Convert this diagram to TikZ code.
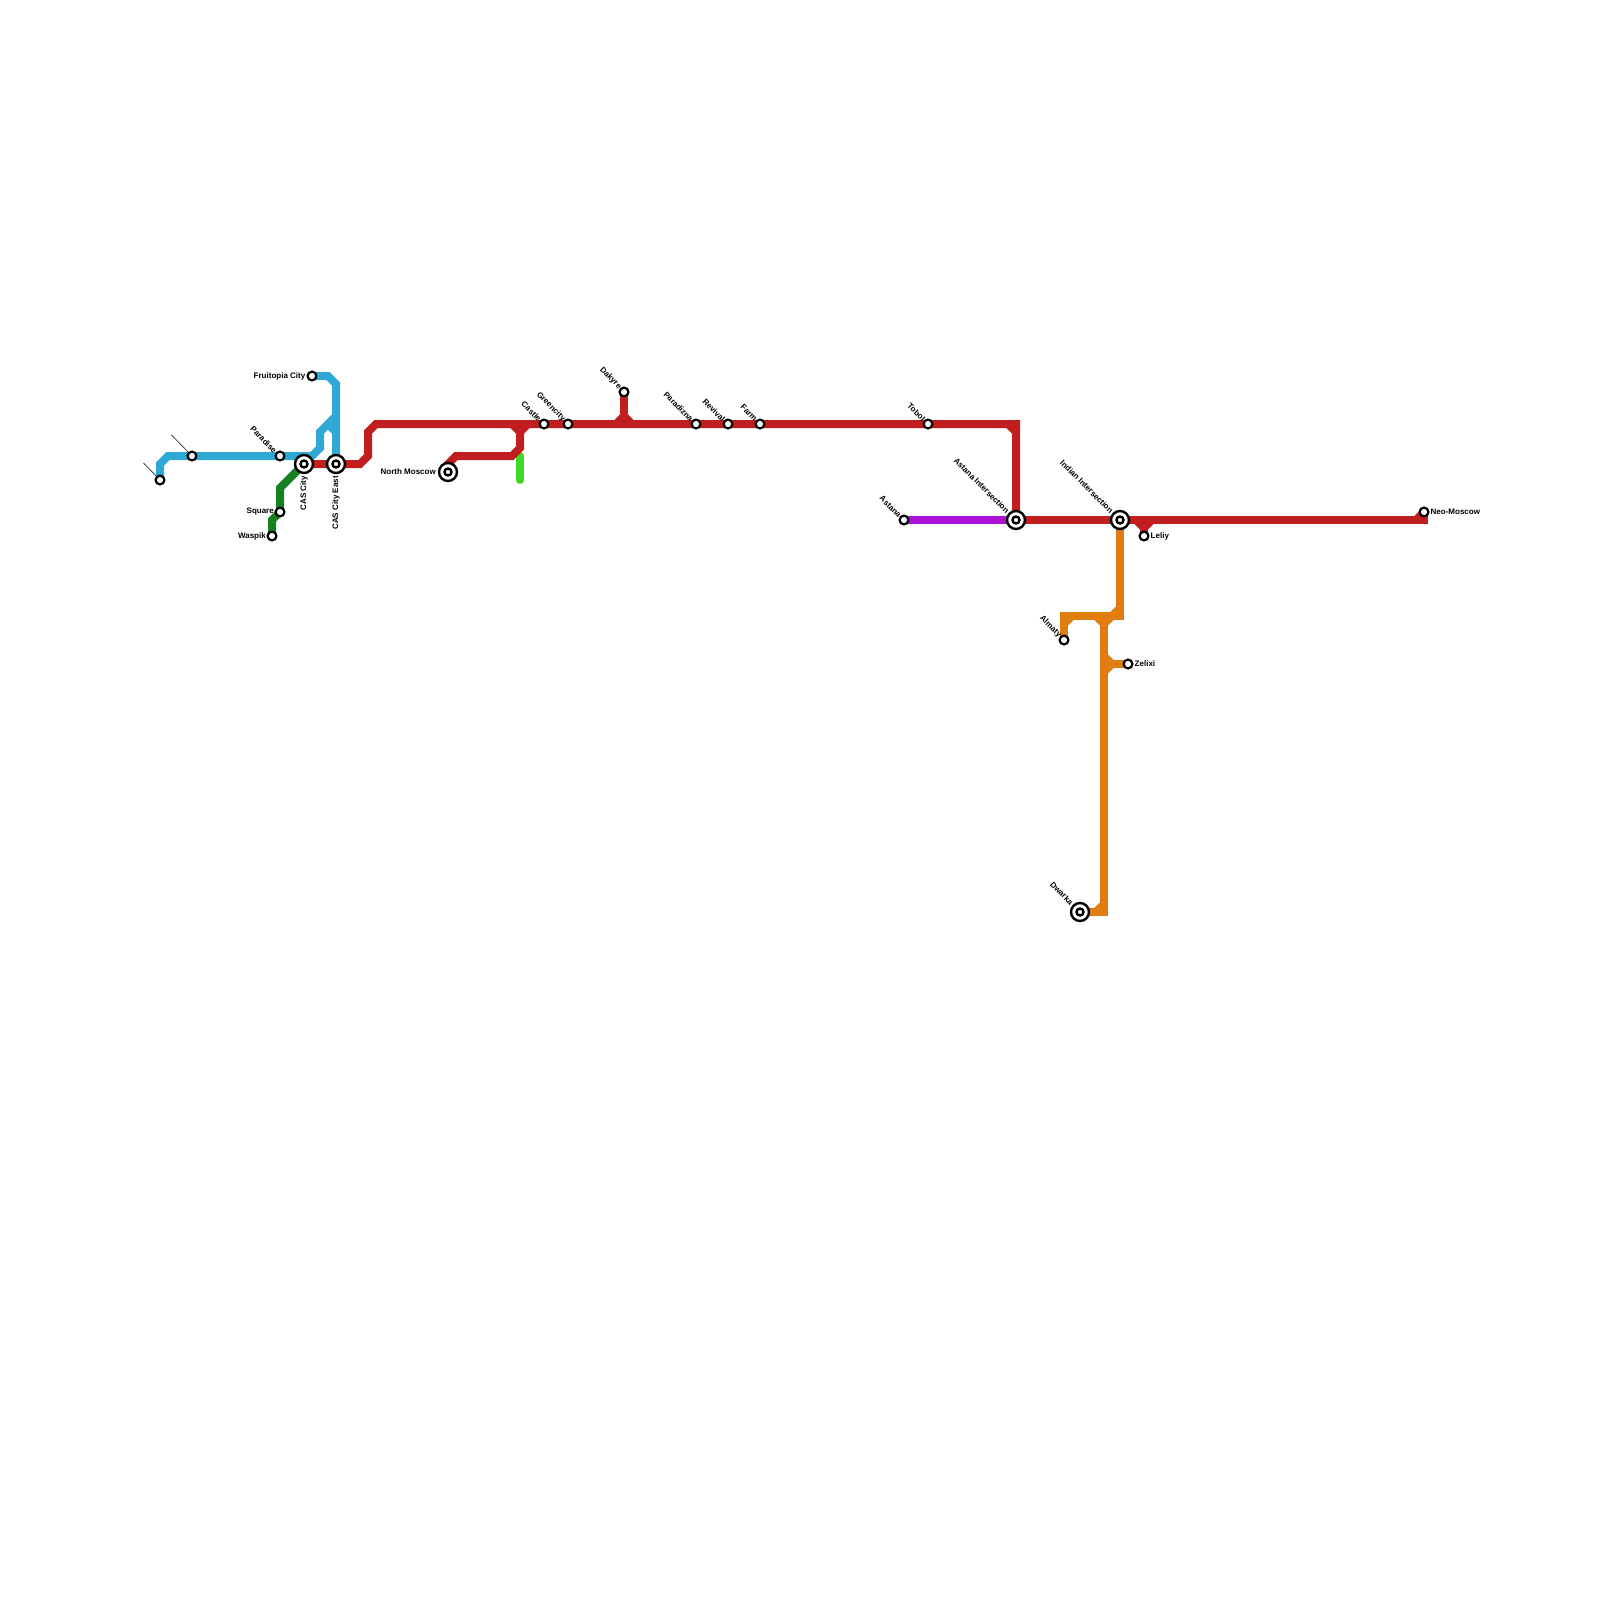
\documentclass[tikz,border=0pt]{standalone}
\usepackage{fontspec}
\setmainfont{Liberation Sans}
\usetikzlibrary{backgrounds}
\definecolor{mred}{HTML}{C11F1F}
\definecolor{mblue}{HTML}{2FA9D4}
\definecolor{mgreen}{HTML}{178021}
\definecolor{mlime}{HTML}{3DDB24}
\definecolor{morange}{HTML}{E07D10}
\definecolor{mpurple}{HTML}{AE10D6}
\tikzset{
  stn/.style={circle,draw=black,fill=white,line width=2.2pt,minimum size=8.8pt,inner sep=0pt},
  xchg/.style={circle,draw=black,fill=white,line width=2.4pt,minimum size=18pt,inner sep=0pt,
    path picture={\draw[black,line width=2.4pt,fill=white] (path picture bounding box.center) circle (3.5pt);}},
  lbl/.style={font=\fontsize{8}{8}\selectfont\bfseries,text=black,inner sep=0pt},
  labdiag/.style={lbl,rotate=-45,anchor=east},
  labup/.style={lbl,rotate=90,anchor=east},
  labl/.style={lbl,anchor=east},
  labr/.style={lbl,anchor=west},
  metro/.style={line width=8pt,line cap=butt,line join=miter,miter limit=10},
  leader/.style={draw=black!75,line width=0.8pt}
}
\begin{document}
\begin{tikzpicture}[x=1pt,y=-1pt]
\useasboundingbox (0,0) rectangle (1600,1600);
% stations
\node[stn] (sa) at (160,480) {};
\node[stn] (sb) at (192,456) {};
\node[stn] (paradise) at (280,456) {};
\node[xchg] (cas) at (304,464) {};
\node[xchg] (case) at (336,464) {};
\node[stn] (fruit) at (312,376) {};
\node[stn] (square) at (280,512) {};
\node[stn] (waspik) at (272,536) {};
\node[xchg] (nmos) at (448,472) {};
\node[stn] (castle) at (544,424) {};
\node[stn] (green) at (568,424) {};
\node[stn] (dakyre) at (624,392) {};
\node[stn] (parad) at (696,424) {};
\node[stn] (revival) at (728,424) {};
\node[stn] (farm) at (760,424) {};
\node[stn] (tobol) at (928,424) {};
\node[stn] (astana) at (904,520) {};
\node[xchg] (astint) at (1016,520) {};
\node[xchg] (indint) at (1120,520) {};
\node[stn] (leliy) at (1144,536) {};
\node[stn] (neo) at (1424,512) {};
\node[stn] (almaty) at (1064,640) {};
\node[stn] (zelixi) at (1128,664) {};
\node[xchg] (dwarka) at (1080,912) {};
% free ends of the leader lines
\coordinate (lda) at (143.5,463);
\coordinate (ldb) at (171.5,435);
% labels
\node[labl] (t-fruit) at (305.5,376) {Fruitopia City};
\node[labl] (t-square) at (274,512) {Square};
\node[labl] (t-waspik) at (266,536) {Waspik};
\node[labl] (t-nmos) at (436,472) {North Moscow};
\node[labr] (t-zelixi) at (1134.5,664) {Zelixi};
\node[labr] (t-leliy) at (1150.5,536) {Leliy};
\node[labr] (t-neo) at (1430.5,512) {Neo-Moscow};
\node[labup] (t-cas) at (304,476) {CAS City};
\node[labup] (t-case) at (336,476) {CAS City East};
\node[labdiag] (t-paradise) at (275.5,451.5) {Paradise};
\node[labdiag] (t-castle) at (540,420) {Castle};
\node[labdiag] (t-green) at (564,420) {Greencity};
\node[labdiag] (t-dakyre) at (620,388) {Dakyre};
\node[labdiag] (t-parad) at (692,420) {Paradizna};
\node[labdiag] (t-revival) at (724,420) {Revival};
\node[labdiag] (t-farm) at (756,420) {Farm};
\node[labdiag] (t-tobol) at (924,420) {Tobol};
\node[labdiag] (t-astana) at (900,516) {Astana};
\node[labdiag] (t-astint) at (1008,512) {Astana Intersection};
\node[labdiag] (t-indint) at (1112,512) {Indian Intersection};
\node[labdiag] (t-almaty) at (1060,636) {Almaty};
\node[labdiag] (t-dwarka) at (1072,903.5) {Dwarka};
\begin{scope}[on background layer]
  % leaders
  \draw[leader] (lda) -- (sa);
  \draw[leader] (ldb) -- (sb);
  % lime
  \draw[metro,mlime,line cap=round] (520,456) -- (520,480);
  % purple
  \draw[metro,mpurple] (astana.center) -- (astint.center);
  % green
  \draw[metro,mgreen] (cas.center) -- ++(-24,24) -- (square.center) -- ++(-8,8) -- (waspik.center);
  % blue
  \draw[metro,mblue] (sa.center) -- ++(0,-16) -- ++(8,-8) -- (sb.center) -- (paradise.center) -- ++(32,0) -- ++(8,-8) -- ++(0,-16) -- ++(16,-16);
  \draw[metro,mblue] (fruit.center) -- ++(16,0) -- ++(8,8) -- (case.center);
  \draw[metro,mblue] (328,424) -- (336,432);
  % red
  \draw[metro,mred] (cas.center) -- (case.center) -- ++(24,0) -- ++(8,-8) -- ++(0,-24) -- ++(8,-8)
     -- (castle.center) -- (green.center) -- (parad.center) -- (revival.center) -- (farm.center) -- (tobol.center)
     -- (1016,424) -- (astint.center);
  \draw[metro,mred] (1008,424) -- (1016,432);
  \draw[metro,mred] (astint.center) -- (indint.center) -- (1424,520) -- (neo.center);
  \draw[metro,mred] (1416,520) -- (neo.center);
  \draw[metro,mred] (nmos.center) -- ++(0,-8) -- ++(8,-8) -- ++(56,0) -- ++(8,-8) -- (520,424);
  \draw[metro,mred] (512,424) -- (520,432) -- (528,424);
  \draw[metro,mred] (dakyre.center) -- (624,424);
  \draw[metro,mred] (616,424) -- (624,416) -- (632,424);
  \draw[metro,mred] (leliy.center) -- (1144,528);
  \draw[metro,mred] (1136,520) -- (1144,528) -- (1152,520);
  % orange
  \draw[metro,morange] (indint.center) -- (1120,616) -- (1064,616) -- (almaty.center);
  \draw[metro,morange] (1064,624) -- (1072,616);
  \draw[metro,morange] (1112,616) -- (1120,608);
  \draw[metro,morange] (1104,616) -- (1104,912) -- (dwarka.center);
  \draw[metro,morange] (1096,616) -- (1104,624) -- (1112,616);
  \draw[metro,morange] (1096,912) -- (1104,904);
  \draw[metro,morange] (1104,664) -- (zelixi.center);
  \draw[metro,morange] (1104,656) -- (1112,664) -- (1104,672);
\end{scope}
\end{tikzpicture}
\end{document}
